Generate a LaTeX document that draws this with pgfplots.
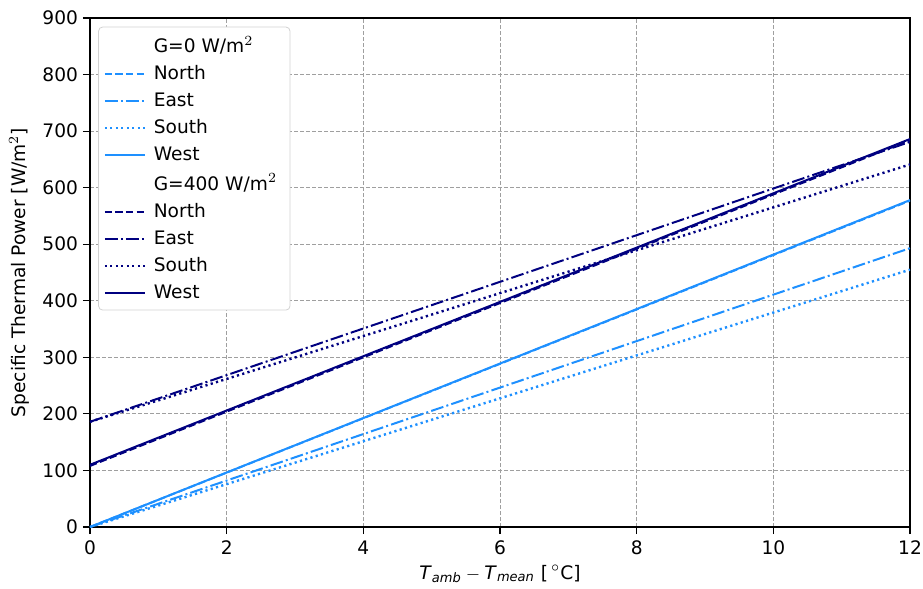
\documentclass[border=0pt]{standalone}
\usepackage{fontspec}
\setmainfont{DejaVu Sans}
\usepackage{amsmath}
\usepackage{pgfplots}
\pgfplotsset{compat=1.18}
\definecolor{lblue}{RGB}{30,144,255}
\definecolor{navy}{RGB}{0,0,128}
\begin{document}
\begin{tikzpicture}
\begin{axis}[
  scale only axis,
  width=410pt, height=254.5pt,
  xmin=0, xmax=12, ymin=0, ymax=900,
  xtick={0,2,...,12}, ytick={0,100,...,900},
  tick align=outside, tick pos=left,
  major tick length=3.5pt,
  tick style={black, line width=0.6pt},
  axis line style={line width=0.7pt},
  grid=major,
  grid style={gray!75, line width=0.5pt, dash pattern=on 2pt off 1pt},
  /pgf/number format/assume math mode=true,
  ticklabel style={font=\fontsize{9.3}{10}\selectfont},
  yticklabel style={xshift=1pt},
  label style={font=\fontsize{9.3}{10}\selectfont},
  xlabel={\textit{T}$_{\text{\itshape amb}}{}-{}$\textit{T}$_{\text{\itshape mean}}$ [\,$^\circ$C]},
  ylabel={Specific Thermal Power [W/m$^2$]},
  xlabel style={yshift=2pt},
  ylabel style={yshift=-0.5pt},
  legend cell align=left,
  legend style={at={(0.01,0.983)}, anchor=north west, font=\fontsize{9.3}{10}\selectfont,
    draw=gray!35, rounded corners=2pt, row sep=1.05pt, inner sep=2.5pt,
    nodes={inner xsep=4pt}},
  legend image code/.code={\draw[#1] (0cm,0cm) -- (0.7cm,0cm);},
  every axis plot/.append style={line width=1pt},
]
\addlegendimage{empty legend}\addlegendentry{G=0 W/m$^2$}
\addplot[lblue, dash pattern=on 3.7pt off 1.6pt] coordinates {(0,0) (12,577)};\addlegendentry{North}
\addplot[lblue, dash pattern=on 6.4pt off 1.6pt on 1pt off 1.6pt] coordinates {(0,0) (12,493)};\addlegendentry{East}
\addplot[lblue, dash pattern=on 1.1pt off 1.65pt, line width=1.2pt] coordinates {(0,0) (12,455)};\addlegendentry{South}
\addplot[lblue] coordinates {(0,0) (12,578)};\addlegendentry{West}
\addlegendimage{empty legend}\addlegendentry{G=400 W/m$^2$}
\addplot[navy, dash pattern=on 3.7pt off 1.6pt] coordinates {(0,108) (12,684)};\addlegendentry{North}
\addplot[navy, dash pattern=on 6.4pt off 1.6pt on 1pt off 1.6pt] coordinates {(0,186) (12,681)};\addlegendentry{East}
\addplot[navy, dash pattern=on 1.1pt off 1.65pt, line width=1.2pt] coordinates {(0,186) (12,641)};\addlegendentry{South}
\addplot[navy] coordinates {(0,110) (12,686)};\addlegendentry{West}
\end{axis}
\pgfresetboundingbox
\path ([shift={(-45pt,-30.5pt)}]current axis.south west) rectangle ([shift={(6.5pt,9pt)}]current axis.north east);
\end{tikzpicture}
\end{document}
